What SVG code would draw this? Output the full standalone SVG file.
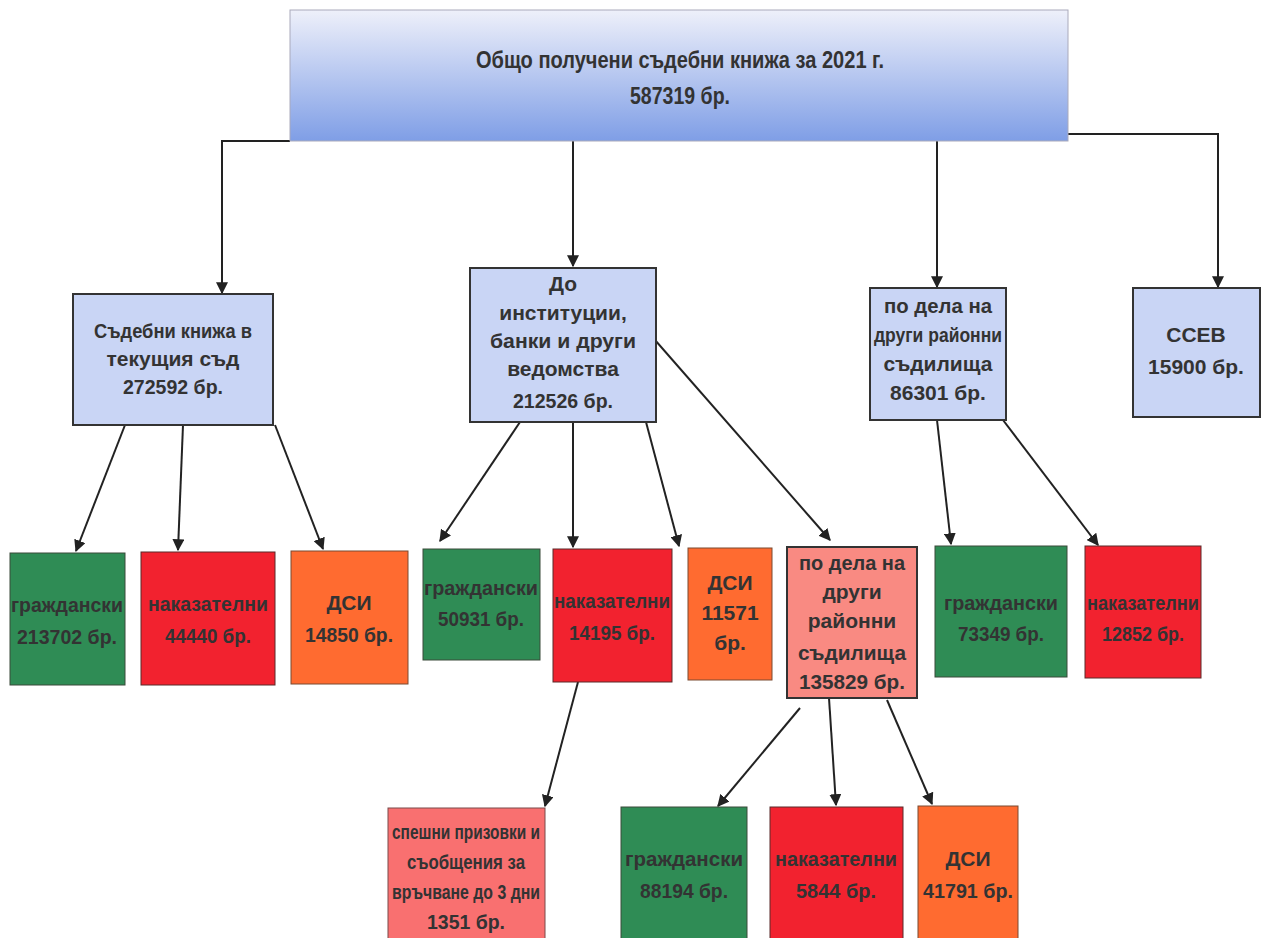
<svg xmlns="http://www.w3.org/2000/svg" width="1268" height="938" viewBox="0 0 1268 938">
<defs>
<linearGradient id="topg" x1="0" y1="0" x2="0" y2="1">
<stop offset="0" stop-color="#eef0fa"/>
<stop offset="1" stop-color="#7f9ee6"/>
</linearGradient>
<marker id="ah" viewBox="0 0 10 10" refX="9" refY="5" markerWidth="12" markerHeight="12" markerUnits="userSpaceOnUse" orient="auto">
<path d="M0,0 L10,5 L0,10 z" fill="#222"/>
</marker>
</defs>
<style>
text{font-family:"Liberation Sans",Arial,sans-serif;font-weight:bold;fill:#333;text-anchor:middle;font-size:21px}
text.big{font-size:23px}
.blue{fill:#c9d5f5;stroke:#333;stroke-width:2}
.green{fill:#2f8c55;stroke:#3a4a3a;stroke-width:1}
.red{fill:#f2222f;stroke:#5a2a2a;stroke-width:1}
.orange{fill:#ff6b30;stroke:#7a4a30;stroke-width:1}
.pink{fill:#f98a82;stroke:#333;stroke-width:2}
.pink2{fill:#f97070;stroke:#7a4a4a;stroke-width:1}
.a{fill:none;stroke:#222;stroke-width:2;marker-end:url(#ah)}
</style>
<rect width="1268" height="938" fill="#ffffff"/>
<g id="connectors">
<polyline class="a" points="290,141 222,141 222,293"/>
<polyline class="a" points="1068,134 1218,134 1218,287"/>
<line class="a" x1="573" y1="141" x2="573" y2="266"/>
<line class="a" x1="937" y1="141" x2="937" y2="287"/>
<line class="a" x1="125" y1="425" x2="76" y2="551"/>
<line class="a" x1="183" y1="425" x2="178" y2="550"/>
<line class="a" x1="275" y1="425" x2="323" y2="549"/>
<line class="a" x1="520" y1="422" x2="440" y2="541"/>
<line class="a" x1="573" y1="422" x2="573" y2="547"/>
<line class="a" x1="646" y1="422" x2="679" y2="546"/>
<line class="a" x1="655" y1="340" x2="830" y2="540"/>
<line class="a" x1="937" y1="420" x2="951" y2="544"/>
<line class="a" x1="1003" y1="420" x2="1098" y2="545"/>
<line class="a" x1="578" y1="682" x2="545" y2="806"/>
<line class="a" x1="800" y1="708" x2="718" y2="806"/>
<line class="a" x1="829" y1="698" x2="836" y2="805"/>
<line class="a" x1="887" y1="700" x2="932" y2="804"/>
</g>
<g id="top">
<rect x="290" y="10" width="778" height="131" fill="url(#topg)" stroke="#aab" stroke-width="1"/>
<text class="big" x="680" y="68" textLength="408" lengthAdjust="spacingAndGlyphs">Общо получени съдебни книжа за 2021 г.</text>
<text class="big" x="680" y="104" textLength="100" lengthAdjust="spacingAndGlyphs">587319 бр.</text>
</g>
<g id="n-current">
<rect class="blue" x="73" y="294" width="200" height="131"/>
<text x="173" y="338" textLength="158" lengthAdjust="spacingAndGlyphs">Съдебни книжа в</text>
<text x="173" y="366">текущия съд</text>
<text x="173" y="394" textLength="100" lengthAdjust="spacingAndGlyphs">272592 бр.</text>
</g>
<g id="n-inst">
<rect class="blue" x="470" y="268" width="186" height="154"/>
<text x="563" y="291">До</text>
<text x="563" y="320">институции,</text>
<text x="563" y="348" textLength="146" lengthAdjust="spacingAndGlyphs">банки и други</text>
<text x="563" y="376">ведомства</text>
<text x="563" y="408" textLength="100" lengthAdjust="spacingAndGlyphs">212526 бр.</text>
</g>
<g id="n-other">
<rect class="blue" x="870" y="288" width="136" height="132"/>
<text x="938" y="313" textLength="108" lengthAdjust="spacingAndGlyphs">по дела на</text>
<text x="938" y="342" textLength="128" lengthAdjust="spacingAndGlyphs">други районни</text>
<text x="938" y="371">съдилища</text>
<text x="938" y="400">86301 бр.</text>
</g>
<g id="n-ssev">
<rect class="blue" x="1133" y="288" width="127" height="129"/>
<text x="1196" y="342">ССЕВ</text>
<text x="1196" y="374">15900 бр.</text>
</g>
<g id="n-civ1">
<rect class="green" x="10" y="553" width="115" height="132"/>
<text x="67" y="612" textLength="112" lengthAdjust="spacingAndGlyphs">граждански</text>
<text x="67" y="644" textLength="100" lengthAdjust="spacingAndGlyphs">213702 бр.</text>
</g>
<g id="n-crim1">
<rect class="red" x="141" y="552" width="134" height="133"/>
<text x="208" y="611" textLength="120" lengthAdjust="spacingAndGlyphs">наказателни</text>
<text x="208" y="643" textLength="86" lengthAdjust="spacingAndGlyphs">44440 бр.</text>
</g>
<g id="n-dsi1">
<rect class="orange" x="291" y="551" width="117" height="133"/>
<text x="349" y="610">ДСИ</text>
<text x="349" y="642" textLength="88" lengthAdjust="spacingAndGlyphs">14850 бр.</text>
</g>
<g id="n-civ2">
<rect class="green" x="423" y="549" width="117" height="111"/>
<text x="481" y="595" textLength="114" lengthAdjust="spacingAndGlyphs">граждански</text>
<text x="481" y="626" textLength="86" lengthAdjust="spacingAndGlyphs">50931 бр.</text>
</g>
<g id="n-crim2">
<rect class="red" x="553" y="549" width="119" height="133"/>
<text x="612" y="608" textLength="116" lengthAdjust="spacingAndGlyphs">наказателни</text>
<text x="612" y="640" textLength="86" lengthAdjust="spacingAndGlyphs">14195 бр.</text>
</g>
<g id="n-dsi2">
<rect class="orange" x="688" y="548" width="84" height="132"/>
<text x="730" y="590">ДСИ</text>
<text x="730" y="620">11571</text>
<text x="730" y="650">бр.</text>
</g>
<g id="n-other2">
<rect class="pink" x="787" y="547" width="130" height="151"/>
<text x="852" y="570" textLength="106" lengthAdjust="spacingAndGlyphs">по дела на</text>
<text x="852" y="599">други</text>
<text x="852" y="628">районни</text>
<text x="852" y="660" textLength="108" lengthAdjust="spacingAndGlyphs">съдилища</text>
<text x="852" y="689" textLength="106" lengthAdjust="spacingAndGlyphs">135829 бр.</text>
</g>
<g id="n-civ3">
<rect class="green" x="935" y="546" width="132" height="131"/>
<text x="1001" y="610" textLength="114" lengthAdjust="spacingAndGlyphs">граждански</text>
<text x="1001" y="641" textLength="86" lengthAdjust="spacingAndGlyphs">73349 бр.</text>
</g>
<g id="n-crim3">
<rect class="red" x="1085" y="546" width="116" height="132"/>
<text x="1143" y="610" textLength="112" lengthAdjust="spacingAndGlyphs">наказателни</text>
<text x="1143" y="641" textLength="82" lengthAdjust="spacingAndGlyphs">12852 бр.</text>
</g>
<g id="n-urgent">
<rect class="pink2" x="388" y="808" width="157" height="140"/>
<text x="466" y="839" textLength="148" lengthAdjust="spacingAndGlyphs">спешни призовки и</text>
<text x="466" y="869" textLength="118" lengthAdjust="spacingAndGlyphs">съобщения за</text>
<text x="466" y="899" textLength="148" lengthAdjust="spacingAndGlyphs">връчване до 3 дни</text>
<text x="466" y="929" textLength="78" lengthAdjust="spacingAndGlyphs">1351 бр.</text>
</g>
<g id="n-civ4">
<rect class="green" x="621" y="807" width="126" height="140"/>
<text x="684" y="866" textLength="118" lengthAdjust="spacingAndGlyphs">граждански</text>
<text x="684" y="898" textLength="88" lengthAdjust="spacingAndGlyphs">88194 бр.</text>
</g>
<g id="n-crim4">
<rect class="red" x="770" y="807" width="133" height="140"/>
<text x="836" y="866" textLength="122" lengthAdjust="spacingAndGlyphs">наказателни</text>
<text x="836" y="898" textLength="80" lengthAdjust="spacingAndGlyphs">5844 бр.</text>
</g>
<g id="n-dsi4">
<rect class="orange" x="918" y="806" width="100" height="140"/>
<text x="968" y="866">ДСИ</text>
<text x="968" y="898" textLength="90" lengthAdjust="spacingAndGlyphs">41791 бр.</text>
</g>
</svg>
